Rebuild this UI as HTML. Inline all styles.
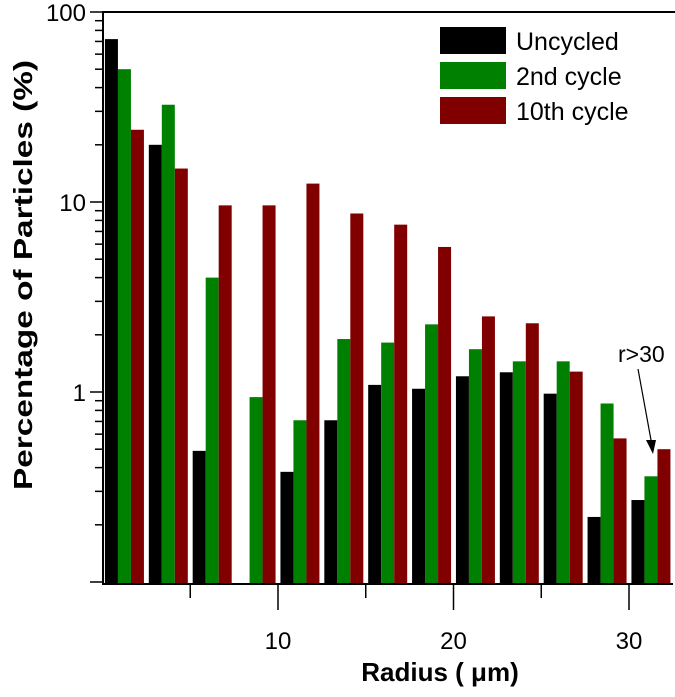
<!DOCTYPE html>
<html><head><meta charset="utf-8"><style>
html,body{margin:0;padding:0;background:#fff;}
svg text{font-family:"Liberation Sans",Arial,sans-serif;}
</style></head><body>
<svg id="chart" width="675" height="692" viewBox="0 0 675 692" xmlns="http://www.w3.org/2000/svg">
<g id="bars"></g>
<g id="axes"></g>
<text transform="translate(32,275) rotate(-90)" text-anchor="middle" font-size="26" font-weight="bold" textLength="430" lengthAdjust="spacingAndGlyphs">Percentage of Particles (%)</text>
<text x="440" y="681" text-anchor="middle" font-size="26" font-weight="bold">Radius ( μm)</text>
<g>
<rect x="440" y="27" width="66" height="27" fill="#000"/>
<text x="516" y="50" font-size="25">Uncycled</text>
<rect x="440" y="62" width="66" height="27" fill="#008000"/>
<text x="516" y="85" font-size="25">2nd cycle</text>
<rect x="440" y="97" width="66" height="27" fill="#800000"/>
<text x="516" y="120" font-size="25">10th cycle</text>
</g>
<g>
<text x="618" y="362" font-size="23">r&gt;30</text>
<line x1="638" y1="369" x2="651" y2="440" stroke="#000" stroke-width="1.2"/>
<polygon points="646,440 656,440 653,454" fill="#000"/>
</g>
</svg>
<script>
const radii=[1.25,3.75,6.25,8.75,11.25,13.75,16.25,18.75,21.25,23.75,26.25,28.75,31.25];
const uncycled=[72,20,0.49,null,0.38,0.71,1.09,1.04,1.21,1.27,0.98,0.22,0.27];
const cycle2=[50,32.5,4.0,0.94,0.71,1.9,1.82,2.27,1.68,1.45,1.45,0.87,0.36];
const cycle10=[24,15,9.6,9.6,12.5,8.7,7.6,5.8,2.5,2.3,1.28,0.57,0.50];
const xTicks=[10,20,30];
const xMinor=[5,15,25];
const yTicks=[100,10,1];
const NS="http://www.w3.org/2000/svg";
const L=103,R=673,T=12,B=584;
function xs(r){return 102.5+17.55*r;}
function ys(v){return 392-190*Math.log10(v);}
function mk(tag,attrs,parent){const e=document.createElementNS(NS,tag);for(const k in attrs)e.setAttribute(k,attrs[k]);parent.appendChild(e);return e;}
const bars=document.getElementById('bars'),axes=document.getElementById('axes');
const series=[[uncycled,'#000',-19.5,'uncycled'],[cycle2,'#008000',-6.5,'cycle2'],[cycle10,'#800000',6.5,'cycle10']];
series.forEach(s=>{
 s[0].forEach((v,i)=>{
  if(v==null)return;
  const y=Math.max(ys(v),T);
  const r=mk('rect',{x:xs(radii[i])+s[2],y:y,width:13,height:B-y,fill:s[1]},bars);
  
  
 });
});
mk('line',{x1:L,y1:T,x2:L,y2:B+1,stroke:'#000','stroke-width':2},axes);
mk('line',{x1:L-1,y1:T,x2:675,y2:T,stroke:'#000','stroke-width':2},axes);
mk('line',{x1:L-1,y1:B,x2:R,y2:B,stroke:'#000','stroke-width':2},axes);
xTicks.forEach(t=>{
 mk('line',{x1:xs(t),y1:B,x2:xs(t),y2:B+26,stroke:'#000','stroke-width':1.5},axes);
 const tx=mk('text',{x:xs(t),y:B+65,'text-anchor':'middle','font-size':24},axes);
 tx.textContent=t;
 
 
});
xMinor.forEach(t=>{mk('line',{x1:xs(t),y1:B,x2:xs(t),y2:B+14,stroke:'#000','stroke-width':1.5},axes);});
for(let d=-1;d<2;d++){
 for(let m=1;m<10;m++){
  const v=m*Math.pow(10,d);
  if(v<0.1)continue;
  const y=ys(v);
  mk('line',{x1:m==1?L-13:L-8,y1:y,x2:L,y2:y,stroke:'#000','stroke-width':1.5},axes);
 }
}
mk('line',{x1:L-13,y1:ys(100),x2:L,y2:ys(100),stroke:'#000','stroke-width':1.5},axes);
yTicks.forEach(t=>{
 const tx=mk('text',{x:L-17,y:ys(t)+9,'text-anchor':'end','font-size':24},axes);
 tx.textContent=t;
 
 
});
</script>
</body></html>
